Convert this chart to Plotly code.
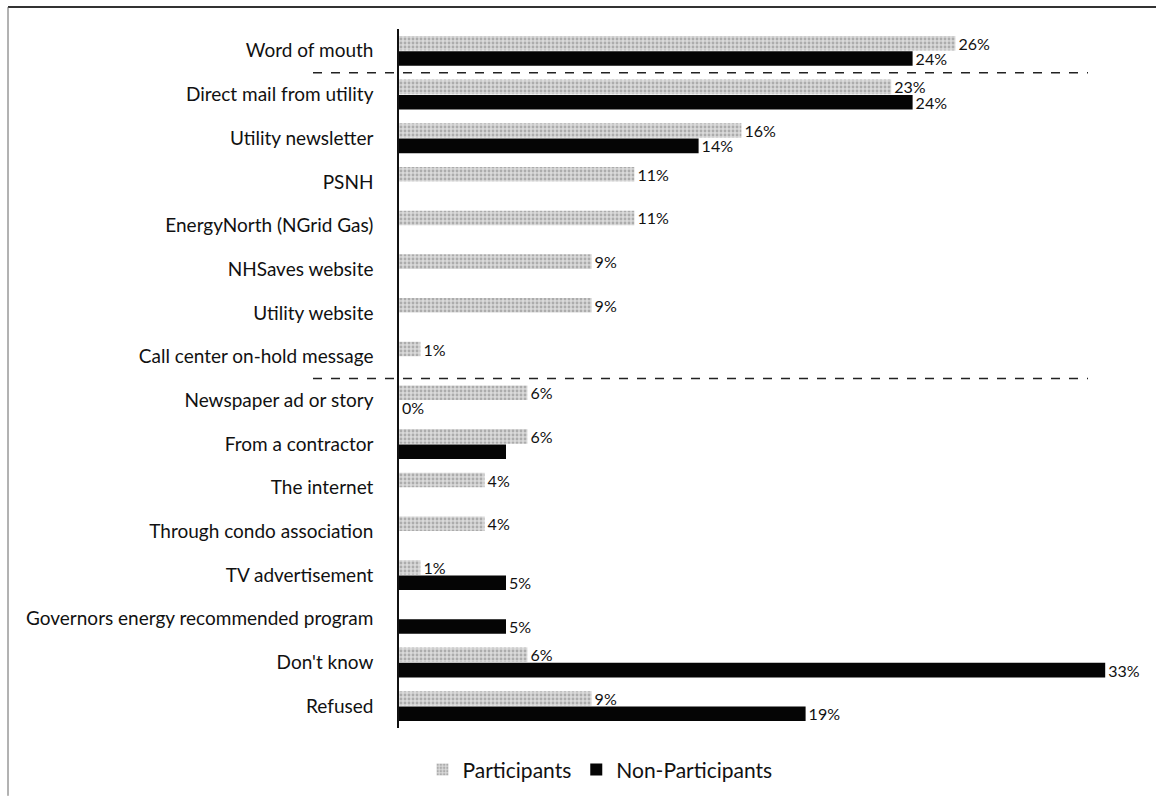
import plotly.graph_objects as go

categories = [
    "Word of mouth",
    "Direct mail from utility",
    "Utility newsletter",
    "PSNH",
    "EnergyNorth (NGrid Gas)",
    "NHSaves website",
    "Utility website",
    "Call center on-hold message",
    "Newspaper ad or story",
    "From a contractor",
    "The internet",
    "Through condo association",
    "TV advertisement",
    "Governors energy recommended program",
    "Don't know",
    "Refused",
]
participants = [26, 23, 16, 11, 11, 9, 9, 1, 6, 6, 4, 4, 1, None, 6, 9]
participants_text = ["26%", "23%", "16%", "11%", "11%", "9%", "9%", "1%", "6%", "6%", "4%", "4%", "1%", "", "6%", "9%"]
non_participants = [24, 24, 14, None, None, None, None, None, 0, 5, None, None, 5, 5, 33, 19]
non_participants_text = ["24%", "24%", "14%", "", "", "", "", "", "0%", "", "", "", "5%", "5%", "33%", "19%"]

FONT = "Lato"

fig = go.Figure()
fig.add_trace(go.Bar(
    y=categories, x=participants, orientation="h", name="Participants",
    text=participants_text, textposition="outside", cliponaxis=False,
    constraintext="none",
    textfont=dict(size=16, color="#111", family=FONT),
    marker=dict(color="#cfcfcf", line=dict(width=0),
                pattern=dict(shape=".", fgcolor="#7d7d7d", bgcolor="#dadada", size=4, solidity=0.4)),
))
fig.add_trace(go.Bar(
    y=categories, x=non_participants, orientation="h", name="Non-Participants",
    text=non_participants_text, textposition="outside", cliponaxis=False,
    constraintext="none",
    textfont=dict(size=16, color="#111", family=FONT),
    marker=dict(color="#050505", line=dict(width=0)),
))

L, R, T, B = 399, 8, 29, 68
W, H = 1156, 798
pw = W - L - R
ph = H - T - B

shapes = []
for yv in (0.5, 7.5):
    shapes.append(dict(type="line", xref="paper", yref="y",
                       x0=(313 - L) / pw, x1=(1088 - L) / pw, y0=yv, y1=yv,
                       line=dict(color="#222", width=1.5, dash="dash")))
# frame (top and left edges)
shapes.append(dict(type="line", xref="paper", yref="paper",
                   x0=(8 - L) / pw, x1=(1156 - L) / pw, y0=1 + (T - 7) / ph, y1=1 + (T - 7) / ph,
                   line=dict(color="#333", width=2)))
shapes.append(dict(type="line", xref="paper", yref="paper",
                   x0=(8 - L) / pw, x1=(8 - L) / pw, y0=1 + (T - 7) / ph, y1=-B / ph,
                   line=dict(color="#666", width=1)))

fig.update_layout(
    width=W, height=H,
    margin=dict(l=L, r=R, t=T, b=B),
    barmode="group", bargap=0.3, bargroupgap=0.05,
    plot_bgcolor="white", paper_bgcolor="white",
    font=dict(family=FONT, size=16, color="#111"),
    shapes=shapes,
    legend=dict(orientation="h", x=(600 - L) / pw, xanchor="center",
                y=-(772 - (H - B)) / ph, yanchor="middle",
                font=dict(size=21, family=FONT), itemwidth=30, traceorder="normal"),
    xaxis=dict(range=[0, 35], visible=False, fixedrange=True),
    yaxis=dict(autorange="reversed", showline=True, linecolor="#111", linewidth=1.5,
               ticks="", showgrid=False, ticklabelstandoff=20,
               tickfont=dict(size=19, family=FONT)),
)

fig.write_html("out.html")
